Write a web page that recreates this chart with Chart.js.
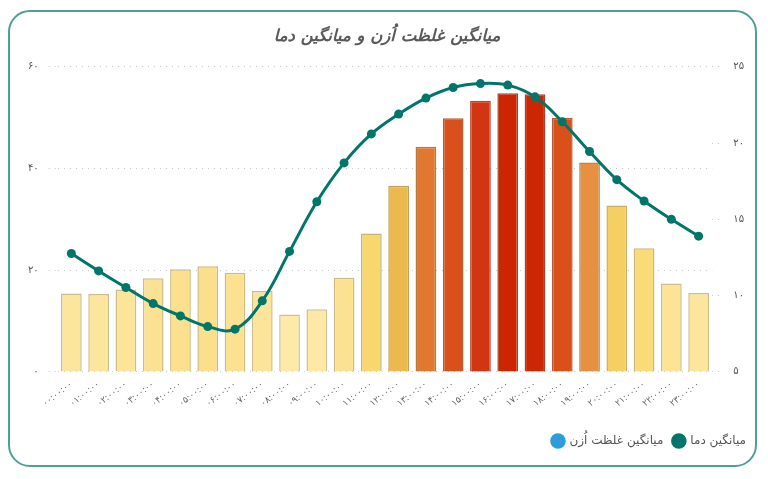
<!DOCTYPE html>
<html lang="fa">
<head>
<meta charset="utf-8">
<script src="https://cdn.jsdelivr.net/npm/chart.js@4.4.1/dist/chart.umd.min.js"></script>
<style>
  html, body { margin: 0; padding: 0; background: #ffffff; }
  body { width: 768px; height: 479px; position: relative; overflow: hidden; }
  #card { position: absolute; left: 8px; top: 10px; width: 745px; height: 453px;
          border: 2px solid #4f9f97; border-radius: 22px; background: #fff; }
  #wrap { position: absolute; left: 0; top: 0; width: 768px; height: 479px; }
</style>
</head>
<body>
<div id="card"></div>
<div id="wrap"><canvas id="c" width="768" height="479"></canvas></div>
<script>
// ---- data ----
const hours = ['۰۰:۰۰:۰۰','۰۱:۰۰:۰۰','۰۲:۰۰:۰۰','۰۳:۰۰:۰۰','۰۴:۰۰:۰۰','۰۵:۰۰:۰۰',
               '۰۶:۰۰:۰۰','۰۷:۰۰:۰۰','۰۸:۰۰:۰۰','۰۹:۰۰:۰۰','۱۰:۰۰:۰۰','۱۱:۰۰:۰۰',
               '۱۲:۰۰:۰۰','۱۳:۰۰:۰۰','۱۴:۰۰:۰۰','۱۵:۰۰:۰۰','۱۶:۰۰:۰۰','۱۷:۰۰:۰۰',
               '۱۸:۰۰:۰۰','۱۹:۰۰:۰۰','۲۰:۰۰:۰۰','۲۱:۰۰:۰۰','۲۲:۰۰:۰۰','۲۳:۰۰:۰۰'];
const ozone = [15.4, 15.3, 16.2, 18.4, 20.2, 20.8, 19.5, 15.9, 11.3, 12.3, 18.5, 27.2,
               36.6, 44.3, 49.9, 53.3, 54.8, 54.6, 50.0, 41.2, 32.7, 24.3, 17.4, 15.5];
const temperature = [12.76, 11.62, 10.53, 9.48, 8.67, 7.97, 7.80, 9.66, 12.9, 16.15, 18.7, 20.6,
                     21.9, 22.95, 23.64, 23.9, 23.8, 23.03, 21.4, 19.45, 17.6, 16.2, 15.0, 13.9];
const leftTicks = [0, 20, 40, 60];
const rightTicks = [5, 10, 15, 20, 25];
const titleText = 'میانگین غلظت اُزن و میانگین دما';
const seriesNames = ['میانگین دما', 'میانگین غلظت اُزن'];

// ---- helpers ----
const faDigits = '۰۱۲۳۴۵۶۷۸۹';
const fa = n => String(n).replace(/[0-9]/g, d => faDigits[d]);

const stops = [
  [10, [253, 235, 172]],
  [20, [251, 224, 142]],
  [27, [248, 216, 110]],
  [33, [245, 207, 96]],
  [37, [236, 181, 78]],
  [41, [231, 146, 64]],
  [44, [224, 122, 48]],
  [50, [217, 80, 26]],
  [53, [211, 56, 20]],
  [55, [204, 34, 0]]
];
function colorFor(v) {
  if (v <= stops[0][0]) return stops[0][1];
  for (let i = 1; i < stops.length; i++) {
    if (v <= stops[i][0]) {
      const [a, ca] = stops[i - 1], [b, cb] = stops[i];
      const t = (v - a) / (b - a);
      return ca.map((c, k) => Math.round(c + (cb[k] - c) * t));
    }
  }
  return stops[stops.length - 1][1];
}
const barFill = ozone.map(v => { const c = colorFor(v); return `rgb(${c[0]},${c[1]},${c[2]})`; });
const barBorder = ozone.map(v => { const c = colorFor(v).map(x => Math.round(x * 0.78)); return `rgba(${c[0]},${c[1]},${c[2]},0.85)`; });

const FONT = "'DejaVu Sans', 'Noto Sans', sans-serif";

new Chart(document.getElementById('c'), {
  data: {
    labels: hours,
    datasets: [
      {
        type: 'line',
        label: seriesNames[0],
        data: temperature,
        yAxisID: 'yR',
        borderColor: '#00766a',
        backgroundColor: '#00766a',
        borderWidth: 3,
        pointRadius: 4.5,
        pointBackgroundColor: '#00766a',
        pointBorderWidth: 0,
        tension: 0.4,
        order: 0
      },
      {
        type: 'bar',
        label: seriesNames[1],
        data: ozone,
        yAxisID: 'yL',
        backgroundColor: barFill,
        borderColor: barBorder,
        borderWidth: 1.5,
        categoryPercentage: 1,
        barPercentage: 0.76,
        order: 1
      }
    ]
  },
  options: {
    responsive: false,
    animation: false,
    events: [],
    layout: { padding: { left: 18, right: 12, top: 14, bottom: 22 } },
    plugins: {
      title: {
        display: true,
        text: titleText,
        color: '#5a5a5a',
        font: { family: FONT, size: 16.5, weight: 'bold', style: 'italic' },
        padding: { top: 13, bottom: 20 }
      },
      legend: {
        display: true,
        position: 'bottom',
        align: 'end',
        labels: {
          usePointStyle: true,
          pointStyle: 'circle',
          boxWidth: 11,
          boxHeight: 11,
          padding: 10,
          color: '#555',
          font: { family: FONT, size: 12 },
          sort: (a, b) => b.datasetIndex - a.datasetIndex,
          generateLabels(chart) {
            const items = Chart.defaults.plugins.legend.labels.generateLabels(chart);
            items.forEach(it => {
              if (it.datasetIndex === 1) { it.fillStyle = '#2e9bdb'; it.strokeStyle = '#2e9bdb'; }
              else { it.fillStyle = '#00766a'; it.strokeStyle = '#00766a'; }
              it.lineWidth = 0;
              it.pointStyle = 'circle';
            });
            return items;
          }
        }
      },
      tooltip: { enabled: false }
    },
    scales: {
      x: {
        grid: { display: false, drawTicks: false },
        border: { display: false },
        afterFit(scale) { scale.height += 9; },
        ticks: {
          color: '#666',
          font: { family: FONT, size: 9 },
          minRotation: 38,
          maxRotation: 38,
          autoSkip: false,
          padding: 7
        }
      },
      yL: {
        type: 'linear',
        position: 'left',
        min: 0,
        max: 60,
        afterBuildTicks(axis) { axis.ticks = leftTicks.map(v => ({ value: v })); },
        grid: { color: '#c8c8c8', lineWidth: 1, tickLength: 9, drawTicks: true, tickBorderDash: [1, 5] },
        border: { display: false, dash: [1, 5] },
        ticks: {
          color: '#555',
          font: { family: FONT, size: 10 },
          padding: 10,
          callback: v => fa(v)
        }
      },
      yR: {
        type: 'linear',
        position: 'right',
        min: 5,
        max: 25,
        afterBuildTicks(axis) { axis.ticks = rightTicks.map(v => ({ value: v })); },
        grid: { drawOnChartArea: false, color: '#c8c8c8', tickLength: 9, tickBorderDash: [1, 5] },
        border: { display: false, dash: [1, 5] },
        ticks: {
          color: '#555',
          font: { family: FONT, size: 10 },
          padding: 12,
          callback: v => fa(v)
        }
      }
    }
  }
});
</script>
</body>
</html>
